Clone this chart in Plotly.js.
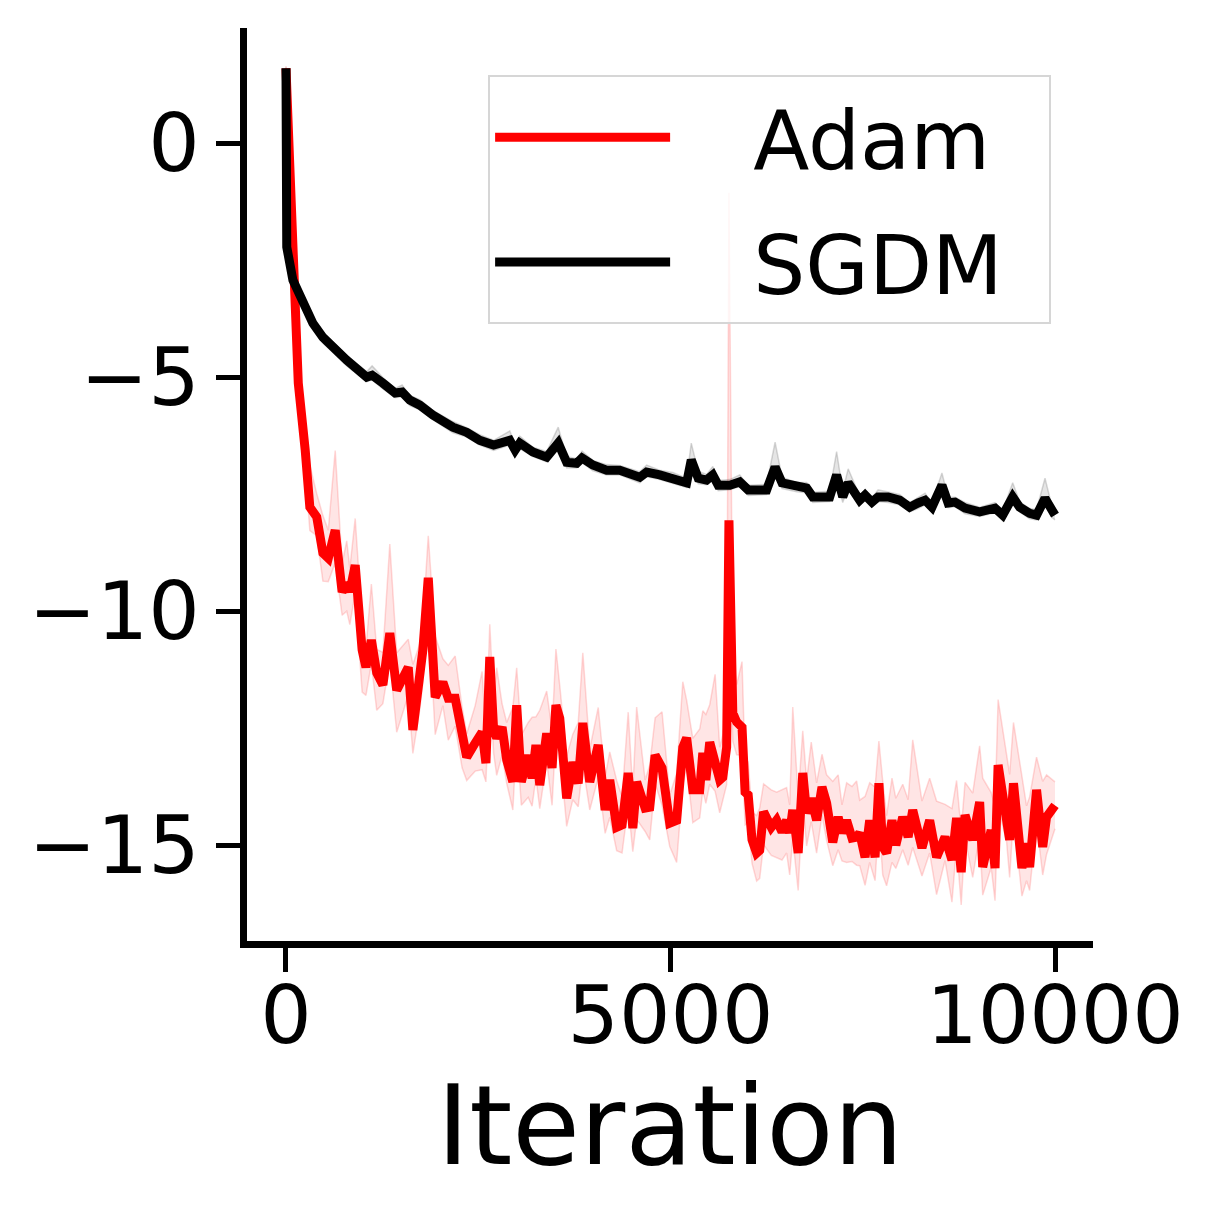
<!DOCTYPE html>
<html>
<head>
<meta charset="utf-8">
<script src="https://cdn.plot.ly/plotly-3.0.1.min.js"></script>
<style>
  html, body { margin: 0; padding: 0; background: #fff; }
  #chart { width: 1218px; height: 1218px; }
</style>
</head>
<body>
<div id="chart"></div>
<script>
// === DATA ===
// Adam (red): iteration, mean, band offsets above / below the mean
const adamIter = [
  0, 90, 160, 250, 310, 400, 480, 550, 640, 730,
  790, 830, 900, 990, 1040, 1110, 1180, 1260, 1350, 1440,
  1590, 1650, 1740, 1780, 1850, 1940, 2040, 2110, 2200, 2290,
  2350, 2460, 2550, 2600, 2650, 2700, 2740, 2810, 2870, 2950,
  3000, 3060, 3150, 3200, 3250, 3300, 3390, 3460, 3510, 3560,
  3650, 3730, 3800, 3860, 3950, 4060, 4150, 4210, 4300, 4370,
  4450, 4510, 4560, 4670, 4730, 4800, 4890, 4990, 5080, 5160,
  5210, 5290, 5380, 5420, 5460, 5510, 5580, 5640, 5680, 5730,
  5760, 5810, 5860, 5930, 5970, 6010, 6060, 6120, 6160, 6210,
  6310, 6380, 6450, 6510, 6550, 6590, 6660, 6720, 6770, 6830,
  6900, 6970, 7030, 7110, 7180, 7230, 7290, 7360, 7420, 7460,
  7530, 7590, 7660, 7710, 7760, 7810, 7880, 7930, 8020, 8090,
  8150, 8270, 8370, 8460, 8570, 8660, 8720, 8780, 8830, 8930,
  9020, 9060, 9170, 9220, 9260, 9370, 9410, 9460, 9570, 9630,
  9670, 9760, 9840, 9890, 10000
];
const adamMean = [
  1.60, -2.29, -5.13, -6.56, -7.78, -7.99, -8.76, -8.87, -8.27, -9.59,
  -9.40, -9.59, -9.02, -10.83, -11.20, -10.62, -11.32, -11.58, -10.47, -11.69,
  -11.20, -12.54, -11.20, -10.83, -9.29, -11.84, -11.52, -11.86, -11.86, -12.65,
  -13.12, -12.82, -12.59, -13.25, -10.98, -12.54, -12.71, -12.48, -13.18, -13.65,
  -12.01, -13.65, -13.08, -13.57, -12.86, -13.72, -12.61, -13.35, -12.01, -12.29,
  -14.00, -13.23, -13.68, -12.39, -13.65, -12.86, -14.25, -13.61, -14.62, -14.57,
  -13.46, -14.64, -13.65, -14.21, -14.19, -13.08, -13.35, -14.53, -14.47, -12.91,
  -12.71, -13.82, -13.82, -13.03, -13.61, -12.80, -13.25, -13.61, -13.55, -12.91,
  -8.06, -12.18, -12.37, -12.48, -13.87, -13.93, -14.89, -15.17, -15.11, -14.29,
  -14.62, -14.47, -14.72, -14.47, -14.74, -14.25, -15.17, -13.46, -14.32, -14.00,
  -14.47, -13.76, -14.10, -14.94, -14.40, -14.74, -14.47, -14.85, -14.83, -14.74,
  -15.26, -14.47, -15.26, -13.68, -15.04, -15.17, -14.47, -15.00, -14.40, -14.83,
  -14.25, -15.06, -14.47, -15.26, -14.83, -15.32, -14.42, -15.58, -14.36, -14.89,
  -14.08, -15.47, -14.68, -15.49, -13.29, -14.32, -14.89, -13.68, -15.49, -14.96,
  -15.47, -13.82, -15.04, -14.40, -14.15
];
const adamUp = [
  0.05, 0.1, 0.3, 0.6, 0.9, 0.5, 0.8, 0.6, 1.7, 0.6,
  0.9, 0.5, 1.0, 0.6, 0.4, 1.2, 0.5, 0.7, 1.9, 0.8,
  0.6, 1.4, 0.5, 0.6, 0.9, 1.3, 0.5, 0.7, 0.9, 0.6,
  0.5, 0.8, 1.3, 0.6, 0.7, 0.6, 1.5, 0.5, 0.8, 1.6,
  0.8, 1.0, 0.7, 1.3, 0.6, 1.6, 0.9, 0.8, 1.2, 0.7,
  0.9, 0.6, 1.3, 1.5, 0.7, 0.8, 0.7, 0.6, 1.0, 0.6,
  1.3, 0.8, 1.6, 0.6, 0.9, 0.8, 1.2, 0.6, 1.0, 1.4,
  0.8, 1.1, 1.3, 0.9, 1.4, 0.8, 1.9, 0.7, 0.9, 0.8,
  7.0, 1.2, 0.8, 1.4, 0.6, 0.7, 0.6, 0.8, 0.9, 0.6,
  0.8, 0.6, 0.9, 0.7, 0.6, 2.2, 1.2, 0.9, 0.7, 1.2,
  0.8, 0.7, 0.6, 1.3, 0.9, 0.6, 0.8, 1.1, 1.2, 0.7,
  1.3, 0.8, 1.5, 0.9, 1.4, 0.8, 0.9, 1.0, 0.7, 0.8,
  1.5, 1.0, 0.9, 1.2, 0.7, 1.1, 0.8, 0.9, 0.7, 1.0,
  1.2, 1.9, 0.8, 1.3, 1.4, 1.3, 1.4, 1.3, 2.0, 0.8,
  1.5, 0.7, 1.4, 0.9, 0.5
];
const adamDown = [
  0.05, 0.1, 0.2, 0.4, 0.5, 0.4, 0.6, 0.5, 0.7, 0.5,
  0.6, 0.7, 0.6, 0.9, 0.6, 0.5, 0.8, 0.4, 0.6, 0.9,
  0.6, 0.5, 0.9, 0.7, 0.6, 0.8, 0.5, 0.9, 0.6, 0.7,
  0.5, 0.6, 0.8, 0.4, 0.6, 0.5, 0.8, 0.6, 0.5, 0.6,
  0.7, 0.5, 0.9, 0.6, 0.7, 0.5, 0.6, 0.8, 0.6, 0.7,
  0.6, 0.8, 0.5, 0.9, 0.6, 0.7, 0.5, 0.8, 0.5, 0.6,
  0.7, 0.5, 0.8, 0.5, 0.7, 0.6, 0.8, 0.5, 0.9, 0.8,
  0.6, 0.7, 0.6, 0.8, 0.5, 0.9, 0.6, 0.7, 0.5, 0.8,
  1.5, 0.6, 0.7, 0.6, 0.7, 0.6, 0.5, 0.6, 0.6, 0.7,
  0.6, 0.8, 0.6, 0.7, 0.9, 0.6, 0.8, 0.6, 0.7, 0.5,
  0.7, 0.6, 0.8, 0.5, 0.7, 0.6, 0.9, 0.5, 0.6, 0.7,
  0.6, 0.9, 0.5, 0.8, 0.6, 0.7, 0.9, 0.5, 0.7, 0.6,
  0.8, 0.6, 0.7, 0.8, 0.5, 0.9, 0.6, 0.7, 0.5, 0.8,
  0.7, 0.6, 0.8, 0.7, 0.9, 0.6, 0.8, 0.7, 0.6, 0.8,
  0.5, 0.7, 0.6, 0.8, 0.5
];

// SGDM (black)
const sgdmIter = [
  0, 10, 90, 220, 350, 480, 640, 790, 1050, 1120,
  1260, 1420, 1510, 1610, 1740, 1910, 2170, 2350, 2520, 2700,
  2910, 2980, 3040, 3210, 3390, 3540, 3650, 3780, 3850, 3990,
  4170, 4340, 4600, 4690, 4860, 5030, 5210, 5270, 5360, 5470,
  5550, 5620, 5770, 5900, 6010, 6250, 6360, 6450, 6640, 6770,
  6850, 7070, 7160, 7240, 7310, 7460, 7530, 7620, 7700, 7830,
  7980, 8110, 8220, 8310, 8400, 8530, 8610, 8700, 8830, 9020,
  9220, 9320, 9450, 9540, 9670, 9760, 9870, 9960, 10000
];
const sgdmMean = [
  1.60, -2.22, -2.93, -3.44, -3.85, -4.15, -4.42, -4.64, -5.00, -4.96,
  -5.13, -5.34, -5.32, -5.49, -5.60, -5.81, -6.07, -6.18, -6.35, -6.45,
  -6.35, -6.56, -6.41, -6.60, -6.71, -6.41, -6.82, -6.84, -6.73, -6.88,
  -6.99, -6.99, -7.14, -7.03, -7.09, -7.16, -7.26, -6.77, -7.16, -7.20,
  -7.09, -7.31, -7.31, -7.24, -7.41, -7.41, -6.92, -7.26, -7.35, -7.37,
  -7.56, -7.56, -7.09, -7.56, -7.26, -7.63, -7.52, -7.67, -7.56, -7.56,
  -7.63, -7.78, -7.69, -7.63, -7.78, -7.31, -7.69, -7.67, -7.80, -7.88,
  -7.80, -7.95, -7.56, -7.78, -7.91, -7.95, -7.59, -7.88, -7.95
];
const sgdmUp = [
  0.02, 0.05, 0.1, 0.1, 0.12, 0.1, 0.12, 0.1, 0.12, 0.2,
  0.12, 0.1, 0.15, 0.1, 0.12, 0.1, 0.12, 0.1, 0.12, 0.1,
  0.2, 0.12, 0.15, 0.1, 0.12, 0.34, 0.12, 0.1, 0.15, 0.1,
  0.12, 0.1, 0.12, 0.15, 0.1, 0.12, 0.1, 0.36, 0.15, 0.12,
  0.18, 0.1, 0.12, 0.15, 0.1, 0.12, 0.53, 0.12, 0.1, 0.12,
  0.1, 0.12, 0.5, 0.12, 0.3, 0.1, 0.12, 0.1, 0.15, 0.1,
  0.12, 0.1, 0.12, 0.15, 0.1, 0.26, 0.12, 0.1, 0.12, 0.1,
  0.12, 0.1, 0.3, 0.12, 0.1, 0.12, 0.43, 0.12, 0.1
];
const sgdmDown = [
  0.02, 0.05, 0.1, 0.1, 0.1, 0.12, 0.1, 0.12, 0.1, 0.1,
  0.12, 0.1, 0.1, 0.12, 0.1, 0.1, 0.12, 0.1, 0.1, 0.12,
  0.1, 0.1, 0.12, 0.1, 0.1, 0.1, 0.12, 0.1, 0.1, 0.12,
  0.1, 0.1, 0.12, 0.1, 0.1, 0.12, 0.1, 0.1, 0.12, 0.1,
  0.1, 0.12, 0.1, 0.1, 0.12, 0.1, 0.1, 0.12, 0.1, 0.1,
  0.12, 0.1, 0.1, 0.12, 0.1, 0.1, 0.12, 0.1, 0.1, 0.12,
  0.1, 0.1, 0.12, 0.1, 0.1, 0.12, 0.1, 0.1, 0.12, 0.1,
  0.1, 0.12, 0.1, 0.1, 0.12, 0.1, 0.1, 0.12, 0.1
];

const xTicks = [0, 5000, 10000];
const xTickText = ["0", "5000", "10000"];
const yTicks = [-15, -10, -5, 0];

// === BANDS ===
const adamHi = adamMean.map((m, i) => m + adamUp[i]);
const adamLo = adamMean.map((m, i) => m - adamDown[i]);
const sgdmHi = sgdmMean.map((m, i) => m + sgdmUp[i]);
const sgdmLo = sgdmMean.map((m, i) => m - sgdmDown[i]);

const font = "DejaVu Sans, sans-serif";
const gap = "\u00a0\u00a0\u00a0"; // space between legend line and label
const tail = "\u2002";            // a bit of room on the right of the legend box

const traces = [
  { x: adamIter, y: adamLo, mode: "lines", line: { color: "rgba(255,0,0,0.15)", width: 1.5 },
    showlegend: false, hoverinfo: "skip" },
  { x: adamIter, y: adamHi, mode: "lines", line: { color: "rgba(255,0,0,0.15)", width: 1.5 },
    fill: "tonexty", fillcolor: "rgba(255,0,0,0.1)", showlegend: false, hoverinfo: "skip" },
  { x: adamIter, y: adamMean, mode: "lines", name: gap + "Adam" + tail,
    line: { color: "#ff0000", width: 9 }, legendgroup: "a" },
  { x: sgdmIter, y: sgdmLo, mode: "lines", line: { color: "rgba(0,0,0,0.15)", width: 1.5 },
    showlegend: false, hoverinfo: "skip" },
  { x: sgdmIter, y: sgdmHi, mode: "lines", line: { color: "rgba(0,0,0,0.15)", width: 1.5 },
    fill: "tonexty", fillcolor: "rgba(0,0,0,0.1)", showlegend: false, hoverinfo: "skip" },
  { x: sgdmIter, y: sgdmMean, mode: "lines", name: gap + "SGDM" + tail,
    line: { color: "#000000", width: 9 }, legendgroup: "s" }
];

const layout = {
  width: 1218, height: 1218,
  margin: { l: 247, r: 125, t: 28, b: 277 },
  paper_bgcolor: "#fff", plot_bgcolor: "#fff",
  font: { family: font, color: "#000" },
  xaxis: {
    range: [-507, 10494], tickvals: xTicks, ticktext: xTickText,
    ticks: "outside", ticklen: 24, tickwidth: 5, tickcolor: "#000",
    showline: true, linewidth: 7, linecolor: "#000",
    showgrid: false, zeroline: false,
    tickfont: { size: 81 }, ticklabelstandoff: -26,
    title: { text: "Iteration", font: { size: 110 }, standoff: 20 }
  },
  yaxis: {
    range: [-17.05, 2.46], tickvals: yTicks,
    ticks: "outside", ticklen: 24, tickwidth: 5, tickcolor: "#000",
    showline: true, linewidth: 7, linecolor: "#000",
    showgrid: false, zeroline: false,
    tickfont: { size: 81 }
  },
  showlegend: true,
  legend: {
    x: 0.285, y: 0.948, xanchor: "left", yanchor: "top",
    bgcolor: "rgba(255,255,255,0.8)", bordercolor: "#d6d6d6", borderwidth: 2,
    font: { size: 82 }, itemwidth: 175, tracegroupgap: 15,
    traceorder: "grouped"
  }
};

Plotly.newPlot("chart", traces, layout, { displayModeBar: false });
</script>
</body>
</html>
